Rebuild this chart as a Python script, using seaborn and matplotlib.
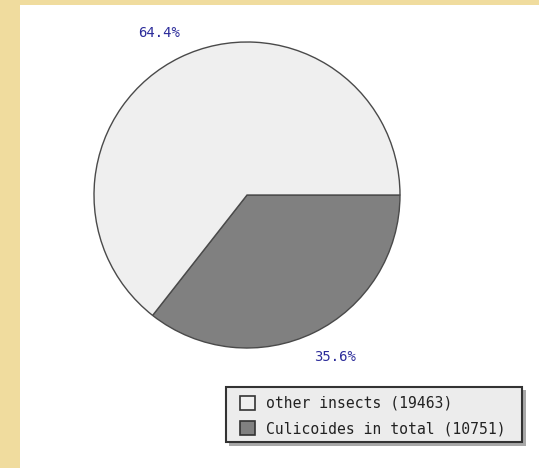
import matplotlib
matplotlib.use("Agg")
import matplotlib.pyplot as plt
import seaborn as sns
import numpy as np
from matplotlib.patches import Patch, Rectangle

categories = ["other insects", "Culicoides in total"]
counts = [19463, 10751]
pct_labels = ["64.4%", "35.6%"]
colors = ["#efefef", "#808080"]

sns.set_style("white")
plt.rcParams['font.family'] = ['DejaVu Sans Mono', 'DejaVu Sans']

W, H = 539, 468
fig = plt.figure(figsize=(W / 100, H / 100), dpi=100)
fig.patch.set_facecolor("#f0dc9e")


def px_rect(x0, y0, x1, y1, **kw):
    """Rectangle given in pixel coords (origin top-left)."""
    return Rectangle((x0 / W, 1 - y1 / H), (x1 - x0) / W, (y1 - y0) / H,
                     transform=fig.transFigure, **kw)


# white panel
fig.patches.append(px_rect(20, 5, W, H, facecolor="white",
                           edgecolor="none", zorder=-5))

ax = fig.add_axes([0, 0, 1, 1], zorder=1)
ax.set_facecolor("none")

# pie: Culicoides first, clockwise from 3 o'clock
order = [1, 0]
vals = [counts[i] for i in order]
cols = [colors[i] for i in order]
cx, cy, r = 247, H - 195, 153
wedges, _ = ax.pie(vals, colors=cols, startangle=0, counterclock=False,
                   center=(cx, cy), radius=r,
                   wedgeprops=dict(edgecolor="#4a4a4a", linewidth=1.0))
total = sum(vals)
theta = 0.0
label_shift = 2.5  # degrees, counter-clockwise
for k, v in enumerate(vals):
    span = 360 * v / total
    mid = np.deg2rad(theta - span / 2 + label_shift)
    theta -= span
    lbl = pct_labels[order[k]]
    ax.text(cx + 1.205 * r * np.cos(mid), cy + 1.205 * r * np.sin(mid), lbl,
            ha="center", va="center", color="#2b2b9a", fontsize=10)

ax.set_xlim(0, W)
ax.set_ylim(0, H)
ax.set_aspect("equal")
ax.axis("off")

# legend box with drop shadow
fig.patches.append(px_rect(229, 390, 526, 446, facecolor="#a8a8a8",
                           edgecolor="none", zorder=2))
fig.patches.append(px_rect(226, 387, 522, 442, facecolor="#ececec",
                           edgecolor="#333333", linewidth=1.5, zorder=3))

handles = [Patch(facecolor=colors[i], edgecolor="#333333", linewidth=1.2)
           for i in range(len(categories))]
labels = [f"{categories[i]} ({counts[i]})" for i in range(len(categories))]
leg = fig.legend(handles, labels, loc="upper left",
                 bbox_to_anchor=(240 / W, 1 - 396 / H),
                 frameon=False,
                 fontsize=10.6, handlelength=1.0, handleheight=1.0,
                 handletextpad=0.8, borderpad=0, labelspacing=0.68,
                 borderaxespad=0)
leg.set_zorder(4)
for t in leg.get_texts():
    t.set_color("#222222")

fig.savefig("out.png", dpi=100)
